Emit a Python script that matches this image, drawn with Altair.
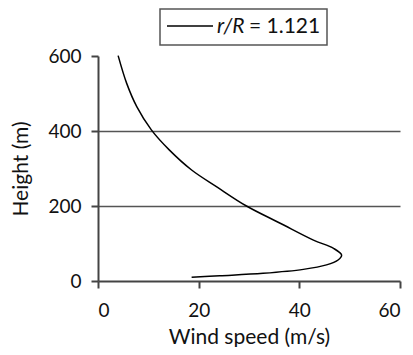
import altair as alt
import pandas as pd

# curve points (ordered along the path)
speed = [4.0, 5.7, 7.7, 10.6, 14.2, 18.6, 23.6, 29.5, 36.2, 42.8, 46.8, 48.4, 47.7, 45.4, 40.8, 32.8, 24.2, 18.6]
height = [601, 527, 465, 403, 349, 296, 251, 200, 154, 109, 87, 69, 56, 43, 31, 20.5, 14, 10]
legend_label_italic = "r/R"
legend_label_rest = "= 1.121"

df = pd.DataFrame({"speed": speed, "height": height, "order": list(range(len(speed)))})

FONT = "Lato"
LFS = 19
TFS = 21

common = dict(tickSize=7, tickWidth=2, tickColor="#444", domainColor="#444", domainWidth=2,
              labelFontSize=LFS, titleFontSize=TFS, labelFont=FONT, titleFont=FONT,
              labelColor="#111", titleColor="#111", titleFontWeight="normal")

x_enc = alt.X("speed:Q", scale=alt.Scale(domain=[0, 60], nice=False),
              axis=alt.Axis(values=[0, 20, 40, 60], title="Wind speed (m/s)", grid=False,
                            labelPadding=13, titlePadding=6, **common))
y_enc = alt.Y("height:Q", scale=alt.Scale(domain=[0, 600], nice=False),
              axis=alt.Axis(values=[0, 200, 400, 600], title="Height (m)",
                            grid=True, gridColor="#555", gridWidth=1.5,
                            gridOpacity={"condition": {"test": "datum.value == 0 || datum.value == 600", "value": 0}, "value": 1},
                            labelPadding=10, titlePadding=16, **common))

line = alt.Chart(df).mark_line(color="black", strokeWidth=1.5, interpolate="catmull-rom").encode(
    x=x_enc, y=y_enc, order="order:Q")

leg_box = alt.Chart(pd.DataFrame({"a": [0]})).mark_rect(fill="white", stroke="#555", strokeWidth=1.5).encode(
    x=alt.value(62), x2=alt.value(229), y=alt.value(-47), y2=alt.value(-11))
leg_line = alt.Chart(pd.DataFrame({"a": [0]})).mark_rule(color="black", strokeWidth=1.5).encode(
    x=alt.value(69), x2=alt.value(115), y=alt.value(-30))
leg_t1 = alt.Chart(pd.DataFrame({"t": [legend_label_italic]})).mark_text(
    font=FONT, fontSize=TFS, fontStyle="italic", align="left", baseline="middle", color="#111").encode(
    x=alt.value(119), y=alt.value(-29), text="t:N")
leg_t2 = alt.Chart(pd.DataFrame({"t": [legend_label_rest]})).mark_text(
    font=FONT, fontSize=TFS, align="left", baseline="middle", color="#111").encode(
    x=alt.value(151), y=alt.value(-29), text="t:N")

chart = alt.layer(line, leg_box, leg_line, leg_t1, leg_t2).properties(
    width=302, height=225,
    autosize=alt.AutoSizeParams(type="none"),
    padding={"left": 90, "top": 48, "right": 5, "bottom": 66},
).configure_view(stroke=None)

chart.save("out.html", embed_options={"renderer": "svg", "actions": False})
